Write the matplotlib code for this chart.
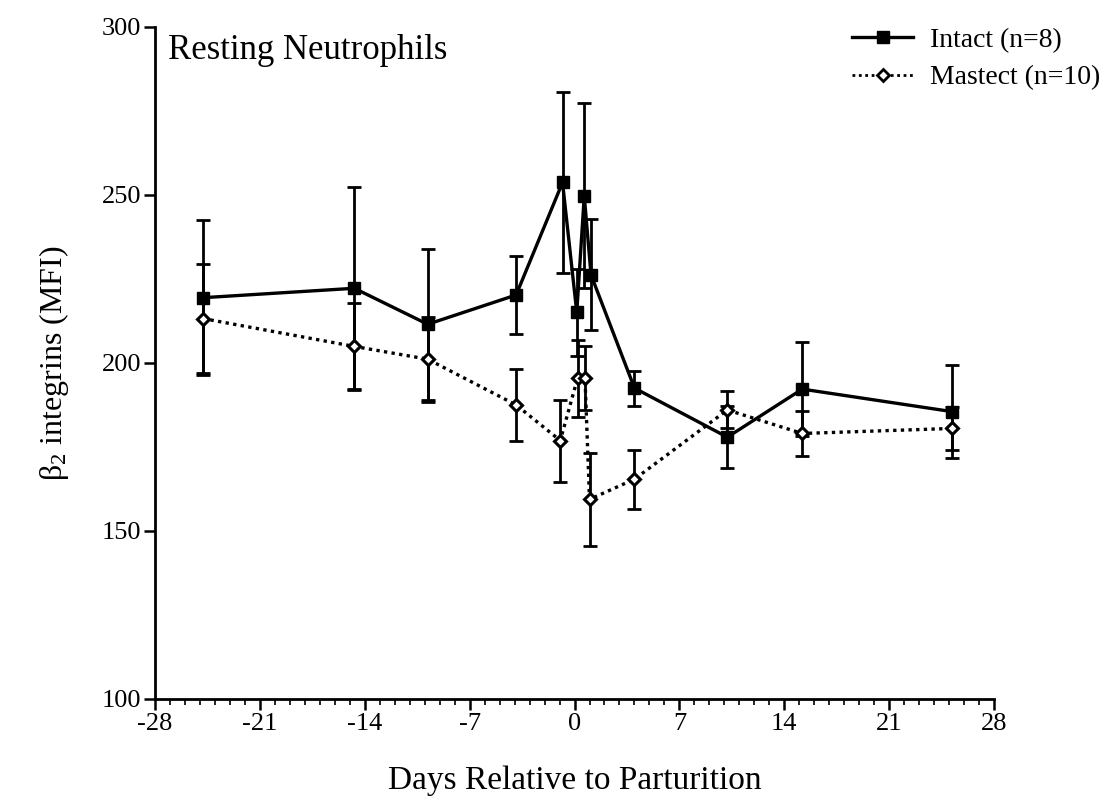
import matplotlib
matplotlib.use("Agg")
import matplotlib.pyplot as plt
from matplotlib.lines import Line2D
from matplotlib.ticker import MultipleLocator

plt.rcParams['font.family'] = ['Liberation Serif', 'DejaVu Serif']
plt.rcParams['mathtext.fontset'] = 'custom'
plt.rcParams['mathtext.rm'] = 'Liberation Serif'
plt.rcParams['mathtext.it'] = 'Liberation Serif:italic'

# Data
intact_x = [-24.8, -14.7, -9.8, -3.9, -0.8, 0.15, 0.65, 1.1, 4.0, 10.2, 15.2, 25.2]
intact_y = [219.4, 222.2, 211.5, 220.2, 253.7, 215.0, 249.7, 226.2, 192.5, 177.9, 192.2, 185.5]
intact_err = [23.0, 30.0, 22.5, 11.7, 27.0, 13.0, 27.5, 16.5, 5.2, 9.2, 14.0, 13.8]

mastect_x = [-24.8, -14.7, -9.8, -3.9, -0.95, 0.2, 0.7, 1.0, 4.0, 10.2, 15.2, 25.2]
mastect_y = [213.2, 204.9, 201.1, 187.5, 176.9, 195.4, 195.4, 159.4, 165.4, 186.0, 179.0, 180.5]
mastect_err = [16.3, 12.9, 12.6, 10.8, 12.2, 11.5, 9.5, 13.8, 8.8, 5.5, 6.8, 6.3]

x_ticks = [-28, -21, -14, -7, 0, 7, 14, 21, 28]
y_ticks = [100, 150, 200, 250, 300]

fig = plt.figure(figsize=(11.04, 8.05), dpi=100)
ax = fig.add_axes([0.1404, 0.1317, 0.76, 0.835])

ax.errorbar(intact_x, intact_y, yerr=intact_err, fmt='none', ecolor='black',
            elinewidth=2.0, capsize=5, capthick=2.0, zorder=2)
ax.errorbar(mastect_x, mastect_y, yerr=mastect_err, fmt='none', ecolor='black',
            elinewidth=2.0, capsize=5, capthick=2.0, zorder=2)
ax.plot(intact_x, intact_y, color='black', lw=2.4, marker='s', markersize=9,
        markerfacecolor='black', markeredgecolor='black', zorder=3)
ax.plot(mastect_x, mastect_y, color='black', lw=2.4, linestyle=(0, (1, 1.3)),
        marker='D', markersize=6.5, markerfacecolor='white', markeredgecolor='black',
        markeredgewidth=2.2, zorder=3)

ax.set_xlim(-28, 28)
ax.set_ylim(100, 300)
ax.set_xticks(x_ticks)
ax.set_xticklabels([str(t) for t in x_ticks])
ax.xaxis.set_minor_locator(MultipleLocator(1))
ax.set_yticks(y_ticks)
ax.set_yticklabels([str(t) for t in y_ticks])
for s in ['top', 'right']:
    ax.spines[s].set_visible(False)
for s in ['left', 'bottom']:
    ax.spines[s].set_linewidth(2.0)
ax.tick_params(axis='both', which='major', direction='out', length=8, width=1.8,
               labelsize=19, pad=2)
ax.tick_params(axis='x', which='minor', direction='out', length=4, width=1.2)

ax.set_xlabel('Days Relative to Parturition', fontsize=24, labelpad=22)
ax.set_ylabel(r'$\mathrm{β}_2$ integrins (MFI)', fontsize=23, labelpad=22)

ax.text(0.015, 0.99, 'Resting Neutrophils', transform=ax.transAxes,
        fontsize=25, va='top', ha='left')

h1 = Line2D([], [], color='black', lw=2.4, marker='s', markersize=8)
h2 = Line2D([], [], color='black', lw=2.0, linestyle=(0, (1, 1.3)), marker='D',
            markersize=6, markerfacecolor='white', markeredgewidth=2.0)
fig.legend([h1, h2], ['Intact (n=8)', 'Mastect (n=10)'], loc='upper left',
           bbox_to_anchor=(0.762, 0.980), borderaxespad=0, frameon=False, fontsize=20,
           handlelength=2.2, labelspacing=0.45, handletextpad=0.6)

fig.savefig('out.png', dpi=100)
